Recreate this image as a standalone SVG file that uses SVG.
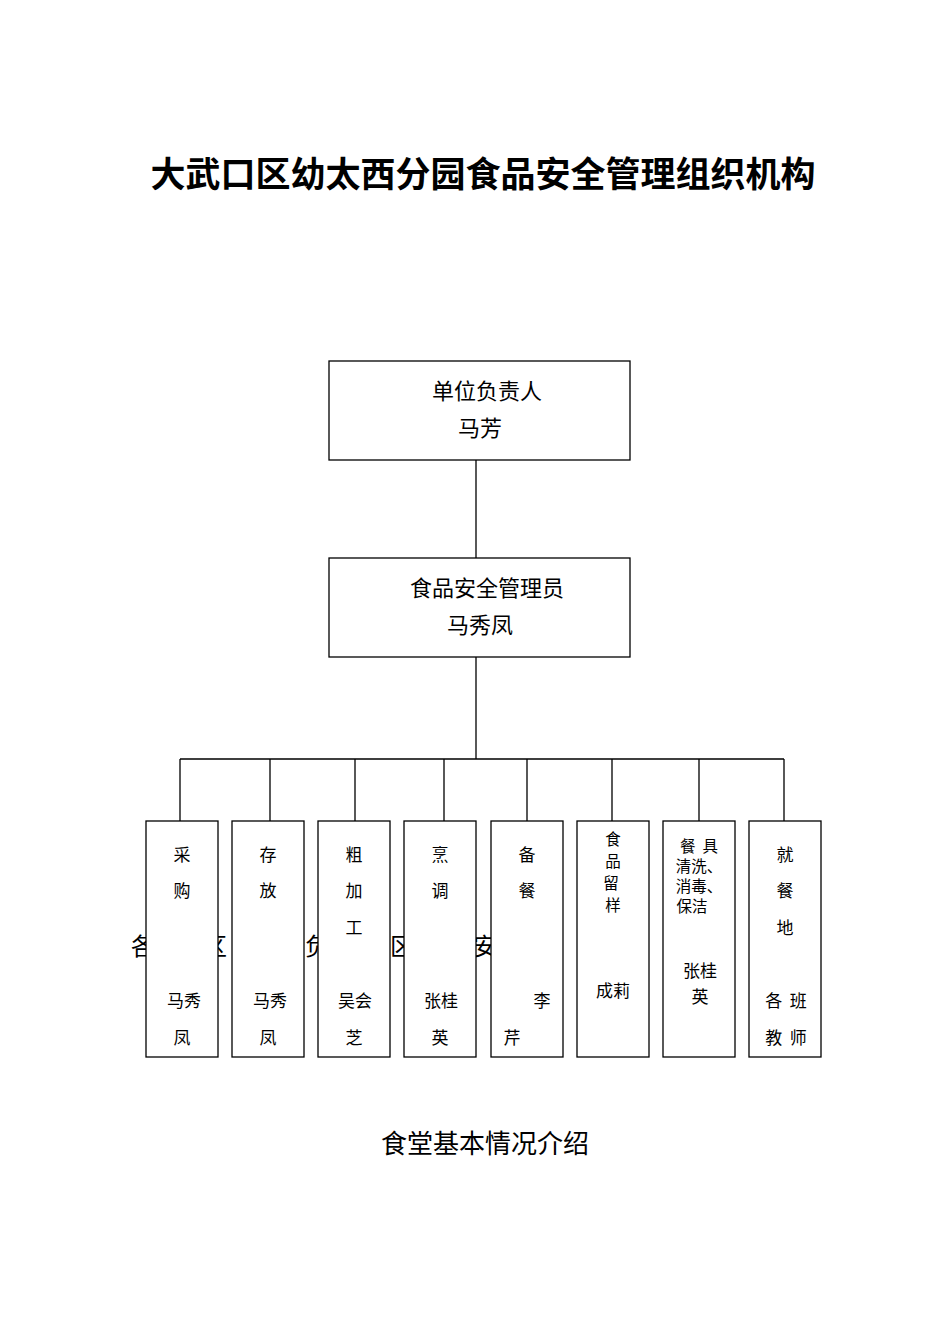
<svg xmlns="http://www.w3.org/2000/svg" width="950" height="1344" viewBox="0 0 950 1344">
<style>
text{font-family:"Noto Sans CJK SC","Noto Sans CJK JP",serif;fill:#000}
.b{fill:#fff;stroke:#000;stroke-width:1.3}
.t{font-size:22px;text-anchor:middle}
.s{font-size:17px;text-anchor:middle}
.m{font-size:15.5px;text-anchor:middle}
.c{stroke:#000;stroke-width:1.3;fill:none}
</style>
<rect width="950" height="1344" fill="#fff"/>
<text x="483" y="187" font-size="35" font-weight="bold" text-anchor="middle">大武口区幼太西分园食品安全管理组织机构</text>
<g id="bg"><text x="131" y="955" style="font-size:24px">各</text><text x="203" y="955" style="font-size:24px">区</text><text x="305" y="955" style="font-size:24px">负</text><text x="390" y="955" style="font-size:24px">区</text><text x="473" y="955" style="font-size:24px">安</text></g>
<g id="connectors" class="c">
<path d="M476 460V558M476 657V759M180 759H784M180 759V821M270 759V821M355 759V821M444 759V821M527 759V821M612 759V821M699 759V821M784 759V821"/>
</g>
<g id="n1"><rect class="b" x="329" y="361" width="301" height="99"/><text class="t" x="487" y="399">单位负责人</text><text class="t" x="480" y="436">马芳</text></g>
<g id="n2"><rect class="b" x="329" y="558" width="301" height="99"/><text class="t" x="487" y="596">食品安全管理员</text><text class="t" x="480" y="633">马秀凤</text></g>
<g id="b1"><rect class="b" x="146" y="821" width="72" height="236"/><text class="s" x="182" y="861">采</text><text class="s" x="182" y="897">购</text><text class="s" x="184" y="1007">马秀</text><text class="s" x="182" y="1044">凤</text></g>
<g id="b2"><rect class="b" x="232" y="821" width="72" height="236"/><text class="s" x="268" y="861">存</text><text class="s" x="268" y="897">放</text><text class="s" x="270" y="1007">马秀</text><text class="s" x="268" y="1044">凤</text></g>
<g id="b3"><rect class="b" x="318" y="821" width="72" height="236"/><text class="s" x="354" y="861">粗</text><text class="s" x="354" y="897">加</text><text class="s" x="354" y="934">工</text><text class="s" x="355" y="1007">吴会</text><text class="s" x="354" y="1044">芝</text></g>
<g id="b4"><rect class="b" x="404" y="821" width="72" height="236"/><text class="s" x="440" y="861">烹</text><text class="s" x="440" y="897">调</text><text class="s" x="441" y="1007">张桂</text><text class="s" x="440" y="1044">英</text></g>
<g id="b5"><rect class="b" x="491" y="821" width="72" height="236"/><text class="s" x="527" y="861">备</text><text class="s" x="527" y="897">餐</text><text class="s" x="542" y="1007">李</text><text class="s" x="512" y="1044">芹</text></g>
<g id="b6"><rect class="b" x="577" y="821" width="72" height="236"/><text class="m" x="613" y="845">食</text><text class="m" x="613" y="867">品</text><text class="m" x="611" y="889">留</text><text class="m" x="613" y="911">样</text><text class="s" x="613" y="997">成莉</text></g>
<g id="b7"><rect class="b" x="663" y="821" width="72" height="236"/><text class="m" x="699" y="852" xml:space="preserve">餐  具</text><text class="m" x="699" y="872">清洗、</text><text class="m" x="699" y="892">消毒、</text><text class="m" x="692" y="912">保洁</text><text class="s" x="700" y="977">张桂</text><text class="s" x="700" y="1003">英</text></g>
<g id="b8"><rect class="b" x="749" y="821" width="72" height="236"/><text class="s" x="785" y="861">就</text><text class="s" x="785" y="897">餐</text><text class="s" x="785" y="934">地</text><text class="s" x="786" y="1007" xml:space="preserve">各  班</text><text class="s" x="786" y="1044" xml:space="preserve">教  师</text></g>
<text x="485" y="1153" font-size="26" text-anchor="middle">食堂基本情况介绍</text>
</svg>
